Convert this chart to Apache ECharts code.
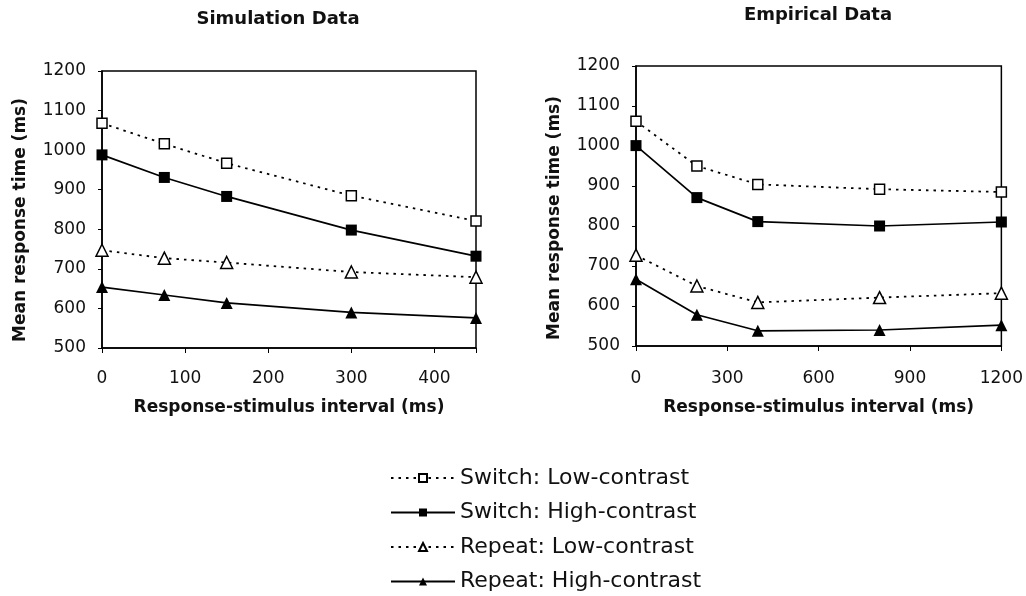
<!DOCTYPE html>
<html>
<head>
<meta charset="utf-8">
<script src="https://cdn.jsdelivr.net/npm/echarts@6/dist/echarts.min.js"></script>
<style>
html,body{margin:0;padding:0;background:#fff;}
#chart{width:1026px;height:596px;}
</style>
</head>
<body>
<div id="chart"></div>
<script>
// ---- data ----
var seriesNames = ['Switch: Low-contrast', 'Switch: High-contrast', 'Repeat: Low-contrast', 'Repeat: High-contrast'];

var simX = [0, 75, 150, 300, 450];
var simSwitchLow  = [1068, 1016, 967, 885, 821];
var simSwitchHigh = [988, 931, 883, 798, 732];
var simRepeatLow  = [747, 727, 716, 692, 679];
var simRepeatHigh = [654, 634, 614, 590, 576];

var empX = [0, 200, 400, 800, 1200];
var empSwitchLow  = [1062, 950, 904, 892, 885];
var empSwitchHigh = [1001, 871, 811, 800, 810];
var empRepeatLow  = [727, 650, 609, 621, 632];
var empRepeatHigh = [667, 578, 538, 540, 552];

var simXTicks = [0, 100, 200, 300, 400];
var empXTicks = [0, 300, 600, 900, 1200];
var yTicks = [500, 600, 700, 800, 900, 1000, 1100, 1200];

var titles = ['Simulation Data', 'Empirical Data'];
var xTitle = 'Response-stimulus interval (ms)';
var yTitle = 'Mean response time (ms)';

// ---- helpers ----
function pairs(xs, ys) { return xs.map(function (x, i) { return [x, ys[i]]; }); }

var styles = [
  { symbol: 'rect', open: true, dash: true },
  { symbol: 'rect', open: false, dash: false },
  { symbol: 'triangle', open: true, dash: true },
  { symbol: 'triangle', open: false, dash: false }
];

function makeSeries(idx, xs, ys, axisIndex) {
  var st = styles[idx];
  return {
    name: seriesNames[idx],
    type: 'line',
    xAxisIndex: axisIndex,
    yAxisIndex: axisIndex,
    data: pairs(xs, ys),
    symbol: st.symbol,
    symbolSize: st.symbol === 'rect' ? (st.open ? 10 : 11) : 12,
    showAllSymbol: true,
    clip: false,
    animation: false,
    lineStyle: { color: '#000', width: st.dash ? 1.8 : 1.7, type: st.dash ? [2.5, 5] : 'solid' },
    itemStyle: { color: st.open ? '#fff' : '#000', borderColor: '#000', borderWidth: st.open ? 1.5 : 0 },
    emphasis: { disabled: true }
  };
}

var font = 'DejaVu Sans';

function xAxis(gridIndex, max, interval, ticks, margin, nameGap) {
  return {
    type: 'value', gridIndex: gridIndex, min: 0, max: max, interval: interval,
    name: xTitle, nameLocation: 'middle', nameGap: nameGap,
    nameTextStyle: { fontFamily: font, fontWeight: 'bold', fontSize: 17, color: '#111' },
    axisLine: { show: true, lineStyle: { color: '#000', width: 1.5 } },
    axisTick: { show: true, length: 5, inside: false, lineStyle: { color: '#000', width: 1 } },
    axisLabel: {
      margin: margin, fontFamily: font, fontSize: 17, color: '#111',
      formatter: function (v) { return ticks.indexOf(v) >= 0 ? String(v) : ''; }
    },
    splitLine: { show: false }
  };
}

function yAxis(gridIndex) {
  return {
    type: 'value', gridIndex: gridIndex, min: yTicks[0], max: yTicks[yTicks.length - 1], interval: 100,
    axisLine: { show: true, lineStyle: { color: '#000', width: 1.5 } },
    axisTick: { show: true, length: 4, inside: false, lineStyle: { color: '#000', width: 1 } },
    axisLabel: {
      margin: 16, fontFamily: font, fontSize: 17, color: '#111',
      formatter: function (v) { return yTicks.indexOf(v) >= 0 ? String(v) : ''; }
    },
    splitLine: { show: false }
  };
}

var series = [];
[simSwitchLow, simSwitchHigh, simRepeatLow, simRepeatHigh].forEach(function (ys, i) { series.push(makeSeries(i, simX, ys, 0)); });
[empSwitchLow, empSwitchHigh, empRepeatLow, empRepeatHigh].forEach(function (ys, i) { series.push(makeSeries(i, empX, ys, 1)); });

function yTitleGraphic(cx, cy) {
  return {
    type: 'text', x: cx, y: cy, rotation: Math.PI / 2, silent: true,
    style: { text: yTitle, fontFamily: font, fontWeight: 'bold', fontSize: 17, fill: '#111',
             align: 'center', verticalAlign: 'middle' }
  };
}

var chart = echarts.init(document.getElementById('chart'), null, { renderer: 'canvas' });
chart.setOption({
  backgroundColor: '#fff',
  animation: false,
  title: [
    { text: titles[0], left: 273, top: 5, textAlign: 'center',
      textStyle: { fontFamily: font, fontWeight: 'bold', fontSize: 18, color: '#111' } },
    { text: titles[1], left: 813, top: 1, textAlign: 'center',
      textStyle: { fontFamily: font, fontWeight: 'bold', fontSize: 18, color: '#111' } }
  ],
  grid: [
    { left: 102, right: 550, top: 71, bottom: 248, show: true, borderColor: '#000', borderWidth: 1.5, backgroundColor: 'transparent' },
    { left: 636, right: 24, top: 66, bottom: 250, show: true, borderColor: '#000', borderWidth: 1.5, backgroundColor: 'transparent' }
  ],
  xAxis: [xAxis(0, 450, 100, simXTicks, 22, 51), xAxis(1, 1200, 300, empXTicks, 24, 53)],
  yAxis: [yAxis(0), yAxis(1)],
  graphic: [yTitleGraphic(21, 220), yTitleGraphic(555, 218)],
  legend: {
    data: seriesNames,
    orient: 'vertical',
    left: 390, top: 467, height: 128,
    padding: 0,
    itemWidth: 64, itemHeight: 10, itemGap: 12.5,
    textStyle: { fontFamily: font, fontSize: 22, lineHeight: 22, color: '#111' },
    selectedMode: false
  },
  series: series
});
</script>
</body>
</html>
